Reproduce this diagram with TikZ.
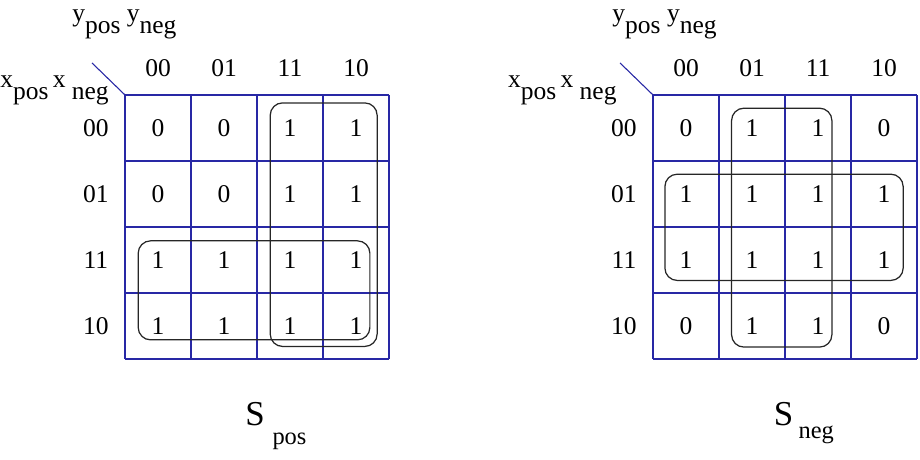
\documentclass[tikz,border=0pt]{standalone}
\usepackage{fontspec}
\setmainfont{Liberation Serif}
\usepackage{tikz}
\definecolor{gridblue}{RGB}{40,40,165}

\begin{document}
\begin{tikzpicture}[x=1.5cm, y=1.5cm,
  cellfont/.style={font=\fontsize{16.5}{19}\selectfont},
  bigfont/.style={font=\fontsize{22.6}{26}\selectfont},
  subfont/.style={font=\fontsize{15.8}{18}\selectfont},
  lbl/.style={cellfont, inner sep=0pt, anchor=base west},
  loop/.style={draw=black!85, line width=0.8pt, rounded corners=8pt}]
\useasboundingbox (-1.894,1.439) rectangle (12.045,-5.530);
% left map: S_pos, right map: S_neg
\foreach \m/\ox in {l/0, r/8} {
  \draw[gridblue, line width=0.7pt, step=1.5cm] (\ox,0) grid (\ox+4,-4);
  \draw[gridblue, line width=0.7pt] (\ox,0) -- (\ox-0.5,0.485);
  \foreach \c [count=\j] in {00,01,11,10} {
    \node[cellfont] (\m c\j) at (\ox+\j-0.5,0.41) {\c};
    \node[cellfont] (\m r\j) at (\ox-0.44,-\j+0.5) {\c};
  }
}
\foreach \row [count=\i] in {{0,0,1,1},{0,0,1,1},{1,1,1,1},{1,1,1,1}}
  \foreach \v [count=\j] in \row
    \node[cellfont] (lv\i\j) at (\j-0.5,-\i+0.5) {\v};
\foreach \row [count=\i] in {{0,1,1,0},{1,1,1,1},{1,1,1,1},{0,1,1,0}}
  \foreach \v [count=\j] in \row
    \node[cellfont] (rv\i\j) at (8+\j-0.5,-\i+0.5) {\v};
% groupings
\draw[loop] (2.2,-0.12) rectangle (3.82,-3.81);
\draw[loop] (0.2,-2.21) rectangle (3.71,-3.71);
\draw[loop] (9.19,-0.2) rectangle (10.71,-3.82);
\draw[loop] (8.18,-1.2) rectangle (11.79,-2.81);
% variable labels
\node[lbl] (ly) at (-0.803,1.106) {y\raisebox{-7.3pt}{pos} y\raisebox{-7.3pt}{neg}};
\node[lbl] (ry) at (7.38,1.106) {y\raisebox{-7.3pt}{pos} y\raisebox{-7.3pt}{neg}};
\node[lbl] (lx) at (-1.894,0.106) {x\raisebox{-7.7pt}{pos}\,x \raisebox{-7.7pt}{neg}};
\node[lbl] (rx) at (5.80,0.106) {x\raisebox{-7.7pt}{pos}\,x \raisebox{-7.7pt}{neg}};
% function names
\node[bigfont] (spos) at (1.97,-4.83) {S};
\node[subfont, inner sep=0pt, anchor=base west] (spossub) at (2.23,-5.30) {pos};
\node[bigfont] (sneg) at (9.98,-4.83) {S};
\node[subfont, inner sep=0pt, anchor=base west] (snegsub) at (10.2,-5.20) {neg};
\end{tikzpicture}
\end{document}
